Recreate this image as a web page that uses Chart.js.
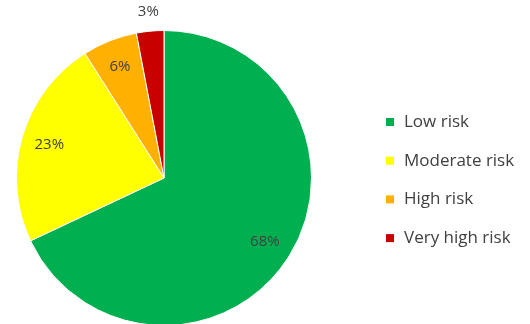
<!DOCTYPE html>
<html>
<head>
<meta charset="utf-8">
<script src="https://cdn.jsdelivr.net/npm/chart.js@4"></script>
<style>
    html, body { margin: 0; padding: 0; background: #fff; }
    #wrap { width: 530px; height: 324px; overflow: hidden; position: relative; }
</style>
</head>
<body>
<div id="wrap">
    <canvas id="riskChart" width="530" height="330"></canvas>
</div>
<script>
// 위험도 분포 데이터
const categories = ['Low risk', 'Moderate risk', 'High risk', 'Very high risk'];
const shares = [68, 23, 6, 3];
const sliceColors = ['#00B050', '#FFFF00', '#FFB000', '#C80000'];

// 조각 안쪽/바깥쪽 퍼센트 라벨
const pctLabels = {
    id: 'pctLabels',
    afterDatasetsDraw(chart) {
        const ctx = chart.ctx;
        const arcs = chart.getDatasetMeta(0).data;
        ctx.save();
        ctx.font = '15px "Open Sans"';
        ctx.fillStyle = '#404040';
        ctx.textAlign = 'center';
        ctx.textBaseline = 'middle';
        arcs.forEach((arc, i) => {
            const { x, y, startAngle, endAngle, outerRadius } = arc.getProps(['x', 'y', 'startAngle', 'endAngle', 'outerRadius'], true);
            const mid = (startAngle + endAngle) / 2;
            const k = shares[i] < 5 ? 1.13 : 0.81;
            ctx.fillText(shares[i] + '%', x + Math.cos(mid) * outerRadius * k, y + Math.sin(mid) * outerRadius * k);
        });
        ctx.restore();
    }
};

// 오른쪽 범례
const sideLegend = {
    id: 'sideLegend',
    afterDraw(chart) {
        const ctx = chart.ctx;
        ctx.save();
        ctx.font = '17px "Open Sans"';
        ctx.textBaseline = 'middle';
        categories.forEach((name, i) => {
            const cy = 122 + i * 38.7;
            ctx.fillStyle = sliceColors[i];
            ctx.fillRect(386, cy - 4, 8, 8);
            ctx.fillStyle = '#404040';
            ctx.fillText(name, 404, cy);
        });
        ctx.restore();
    }
};

new Chart(document.getElementById('riskChart'), {
    type: 'pie',
    data: {
        labels: categories,
        datasets: [{
            data: shares,
            backgroundColor: sliceColors,
            borderColor: '#ffffff',
            borderWidth: 1
        }]
    },
    options: {
        responsive: false,
        animation: false,
        layout: { padding: { left: 16, right: 218, top: 30, bottom: 4 } },
        plugins: {
            legend: { display: false },
            tooltip: { enabled: false }
        }
    },
    plugins: [pctLabels, sideLegend]
});
</script>
</body>
</html>
